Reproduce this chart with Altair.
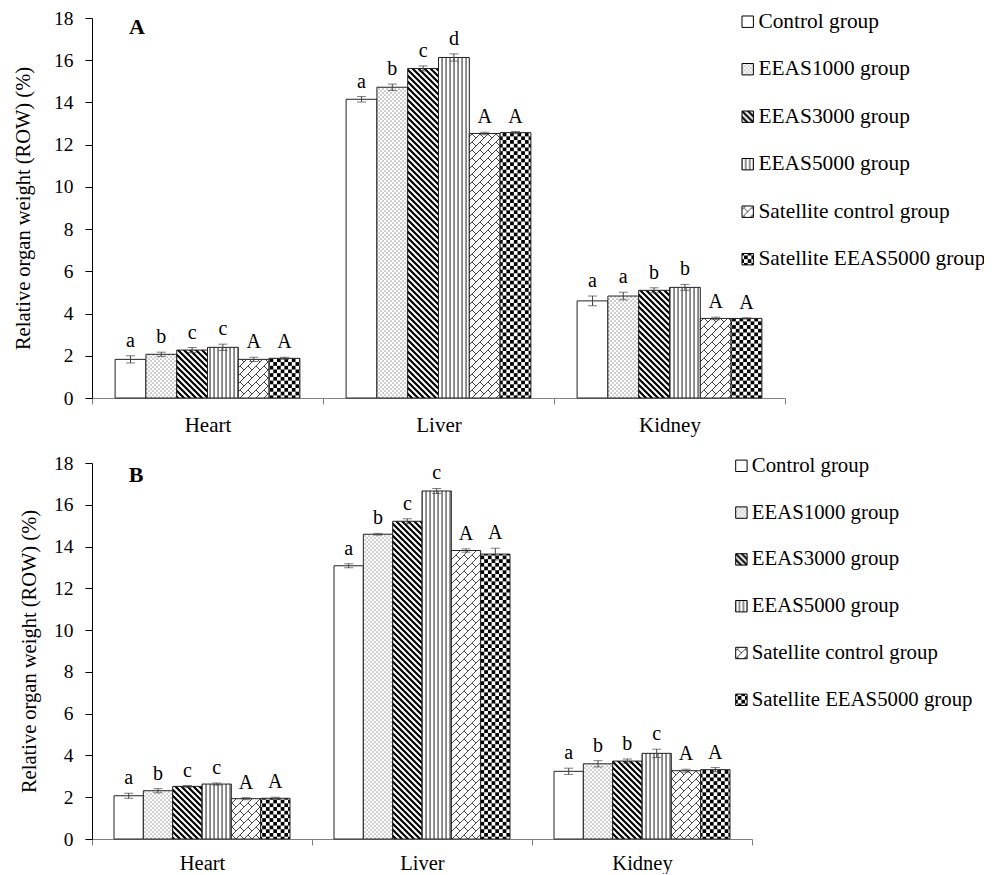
import inspect
import re

import jinja2
import altair as alt
import pandas as pd

# ---------------- data ----------------
organs = ["Heart", "Liver", "Kidney"]
groups = [
    "Control group",
    "EEAS1000 group",
    "EEAS3000 group",
    "EEAS5000 group",
    "Satellite control group",
    "Satellite EEAS5000 group",
]

# Panel A
a_heart = [1.83, 2.07, 2.27, 2.40, 1.83, 1.88]
a_liver = [14.15, 14.72, 15.61, 16.13, 12.53, 12.57]
a_kidney = [4.60, 4.83, 5.10, 5.24, 3.77, 3.77]
a_heart_err = [0.17, 0.10, 0.12, 0.15, 0.10, 0.05]
a_liver_err = [0.13, 0.15, 0.12, 0.17, 0.06, 0.05]
a_kidney_err = [0.23, 0.18, 0.12, 0.14, 0.06, 0.03]
a_heart_letters = ["a", "b", "c", "c", "A", "A"]
a_liver_letters = ["a", "b", "c", "d", "A", "A"]
a_kidney_letters = ["a", "a", "b", "b", "A", "A"]

# Panel B
b_heart = [2.07, 2.31, 2.52, 2.63, 1.93, 1.95]
b_liver = [13.08, 14.59, 15.21, 16.66, 13.81, 13.64]
b_kidney = [3.24, 3.60, 3.73, 4.10, 3.27, 3.32]
b_heart_err = [0.12, 0.10, 0.04, 0.05, 0.05, 0.05]
b_liver_err = [0.10, 0.04, 0.12, 0.12, 0.08, 0.28]
b_kidney_err = [0.15, 0.15, 0.10, 0.20, 0.07, 0.10]
b_heart_letters = ["a", "b", "c", "c", "A", "A"]
b_liver_letters = ["a", "b", "c", "c", "A", "A"]
b_kidney_letters = ["a", "b", "b", "c", "A", "A"]

y_ticks = [0, 2, 4, 6, 8, 10, 12, 14, 16, 18]

# ---------------- styles ----------------
SERIF = "Liberation Serif"
group_fills = [
    "white",
    "url(#pDots)",
    "url(#pDiag)",
    "url(#pVert)",
    "url(#pBrick)",
    "url(#pCheck)",
]

PATTERN_DEFS = """
<style>
  html, body { overflow: hidden; }
  .vega-embed > svg, .vega-embed svg.marks { flex: none; flex-shrink: 0; max-width: none; }
</style>
<svg width="0" height="0" style="position:absolute;left:0;top:0" aria-hidden="true">
  <defs>
    <pattern id="pDots" width="4" height="4" patternUnits="userSpaceOnUse">
      <rect width="4" height="4" fill="white"/>
      <rect x="0.5" y="0.5" width="1.1" height="1.1" fill="#666"/>
      <rect x="2.5" y="2.5" width="1.1" height="1.1" fill="#666"/>
    </pattern>
    <pattern id="pDiag" width="6" height="6" patternUnits="userSpaceOnUse">
      <rect width="6" height="6" fill="white"/>
      <path d="M-1,-1 L7,7 M5,-1 L7,1 M-1,5 L1,7" stroke="black" stroke-width="2.2"/>
    </pattern>
    <pattern id="pVert" width="4" height="4" patternUnits="userSpaceOnUse">
      <rect width="4" height="4" fill="white"/>
      <rect x="1.5" y="0" width="1.1" height="4" fill="#333"/>
    </pattern>
    <pattern id="pBrick" width="8" height="8" patternUnits="userSpaceOnUse">
      <rect width="8" height="8" fill="white"/>
      <path d="M-1,9 L9,-1 M-1,1 L1,-1 M7,9 L9,7 M4,4 L8,8" stroke="#333" stroke-width="0.9" fill="none"/>
    </pattern>
    <pattern id="pCheck" width="7.4" height="7.4" patternUnits="userSpaceOnUse">
      <rect width="7.4" height="7.4" fill="white"/>
      <rect x="0" y="0" width="3.7" height="3.7" fill="black"/>
      <rect x="3.7" y="3.7" width="3.7" height="3.7" fill="black"/>
    </pattern>
  </defs>
</svg>
"""

FALLBACK_TEMPLATE = """<!DOCTYPE html>
<html>
<head>
  <style>
    #{{ output_div }}.vega-embed { width: 100%; display: flex; }
    #{{ output_div }}.vega-embed details,
    #{{ output_div }}.vega-embed details summary { position: relative; }
  </style>
  <script type="text/javascript" src="{{ base_url }}/vega@{{ vega_version }}"></script>
  <script type="text/javascript" src="{{ base_url }}/vega-lite@{{ vegalite_version }}"></script>
  <script type="text/javascript" src="{{ base_url }}/vega-embed@{{ vegaembed_version }}"></script>
</head>
<body>
  <div id="{{ output_div }}"></div>
  <script>
    (function(vegaEmbed) {
      var spec = {{ spec }};
      var embedOpt = {{ embed_options }};
      const el = document.getElementById('{{ output_div }}');
      vegaEmbed("#{{ output_div }}", spec, embedOpt).catch(function(error){
        el.innerHTML = '<div style="color:red;">' + error.message + '</div>';
        throw error;
      });
    })(vegaEmbed);
  </script>
</body>
</html>
"""


def build_template():
    tpl_src = None
    try:
        import altair.utils.html as html_mod
        src = inspect.getsource(html_mod)
        m = re.search(r'HTML_TEMPLATE\s*=\s*jinja2\.Template\(\s*"""(.*?)"""', src, re.S)
        if m:
            tpl_src = m.group(1)
    except Exception:
        tpl_src = None
    if not tpl_src:
        tpl_src = FALLBACK_TEMPLATE
    target = '<div id="{{ output_div }}"></div>'
    if target in tpl_src:
        tpl_src = tpl_src.replace(target, PATTERN_DEFS + "\n  " + target, 1)
    else:
        tpl_src = FALLBACK_TEMPLATE.replace(target, PATTERN_DEFS + "\n  " + target, 1)
    return jinja2.Template(tpl_src)


def make_df(means, errs, letters):
    rows = []
    for organ, m_list, e_list, l_list in zip(organs, means, errs, letters):
        for g, m, e, l in zip(groups, m_list, e_list, l_list):
            rows.append(
                {"organ": organ, "group": g, "value": m, "lo": m - e, "hi": m + e, "letter": l}
            )
    return pd.DataFrame(rows)


def panel(df, tag, w, h, leg_x, leg_y, row_pad, leg_font, tag_x, tag_y,
          x_lab_pad, x_lab_font, y_title_pad):
    x_enc = alt.X(
        "organ:N",
        sort=organs,
        scale=alt.Scale(paddingInner=0, paddingOuter=0),
        axis=alt.Axis(
            title=None,
            labelAngle=0,
            tickBand="extent",
            domainColor="#808080",
            tickColor="#808080",
            tickSize=6,
            labelPadding=x_lab_pad,
            labelFontSize=x_lab_font,
        ),
    )
    xo_enc = alt.XOffset(
        "group:N", sort=groups, scale=alt.Scale(paddingInner=0, paddingOuter=0.75)
    )
    y_scale = alt.Scale(domain=[0, 18], nice=False)
    y_axis = alt.Axis(
        title="Relative organ weight (ROW) (%)",
        values=y_ticks,
        domainColor="black",
        tickColor="black",
        tickSize=7,
        labelPadding=12,
        titlePadding=y_title_pad,
        labelFontSize=19.5,
        titleFontSize=20.5,
    )
    base = alt.Chart(df)
    bars = base.mark_bar(stroke="#222", strokeWidth=1).encode(
        x=x_enc,
        xOffset=xo_enc,
        y=alt.Y("value:Q", scale=y_scale, axis=y_axis),
        fill=alt.Fill(
            "group:N",
            sort=groups,
            scale=alt.Scale(domain=groups, range=group_fills),
            legend=alt.Legend(
                title=None,
                orient="none",
                legendX=leg_x,
                legendY=leg_y,
                symbolType="square",
                symbolSize=130,
                symbolStrokeColor="black",
                symbolStrokeWidth=1,
                labelFont=SERIF,
                labelFontSize=leg_font,
                labelColor="black",
                labelOffset=0,
                labelLimit=400,
                rowPadding=row_pad,
                padding=0,
            ),
        ),
    )
    err = base.mark_rule(color="#444", strokeWidth=1).encode(
        x=x_enc,
        xOffset=xo_enc,
        y=alt.Y("lo:Q", scale=y_scale, axis=y_axis),
        y2="hi:Q",
    )
    cap_hi = base.mark_tick(color="#444", size=9, thickness=1).encode(
        x=x_enc, xOffset=xo_enc, y=alt.Y("hi:Q", scale=y_scale, axis=y_axis)
    )
    cap_lo = base.mark_tick(color="#444", size=9, thickness=1).encode(
        x=x_enc, xOffset=xo_enc, y=alt.Y("lo:Q", scale=y_scale, axis=y_axis)
    )
    letters = base.mark_text(
        font=SERIF, fontSize=20, color="black", baseline="alphabetic", dy=-9
    ).encode(
        x=x_enc,
        xOffset=xo_enc,
        y=alt.Y("hi:Q", scale=y_scale, axis=y_axis),
        text="letter:N",
    )
    tag_mark = alt.Chart(pd.DataFrame({"t": [tag]})).mark_text(
        font=SERIF, fontSize=22, fontWeight="bold", color="black", baseline="middle", align="center"
    ).encode(text="t:N", x=alt.value(tag_x), y=alt.value(tag_y))
    return alt.layer(bars, err, cap_hi, cap_lo, letters, tag_mark).properties(width=w, height=h)


df_a = make_df(
    [a_heart, a_liver, a_kidney],
    [a_heart_err, a_liver_err, a_kidney_err],
    [a_heart_letters, a_liver_letters, a_kidney_letters],
)
df_b = make_df(
    [b_heart, b_liver, b_kidney],
    [b_heart_err, b_liver_err, b_kidney_err],
    [b_heart_letters, b_liver_letters, b_kidney_letters],
)

top = panel(df_a, "A", 693, 380, 645, -7, 24.5, 21.4, 45, 9, 10, 21, 20)
bottom = panel(df_b, "B", 660, 376, 639, -7.6, 24.8, 20.8, 44, 12, 8, 20.5, 14)

chart = (
    alt.vconcat(top, bottom, spacing=18)
    .resolve_scale(fill="independent", xOffset="independent")
    .properties(padding={"left": 5, "top": 0, "right": 0, "bottom": 0})
    .configure_view(stroke=None)
    .configure_axis(
        labelFont=SERIF,
        titleFont=SERIF,
        labelColor="black",
        titleColor="black",
        titleFontWeight="normal",
        grid=False,
    )
)

chart.save(
    "out.html",
    embed_options={"renderer": "svg", "actions": False},
    template=build_template(),
)
